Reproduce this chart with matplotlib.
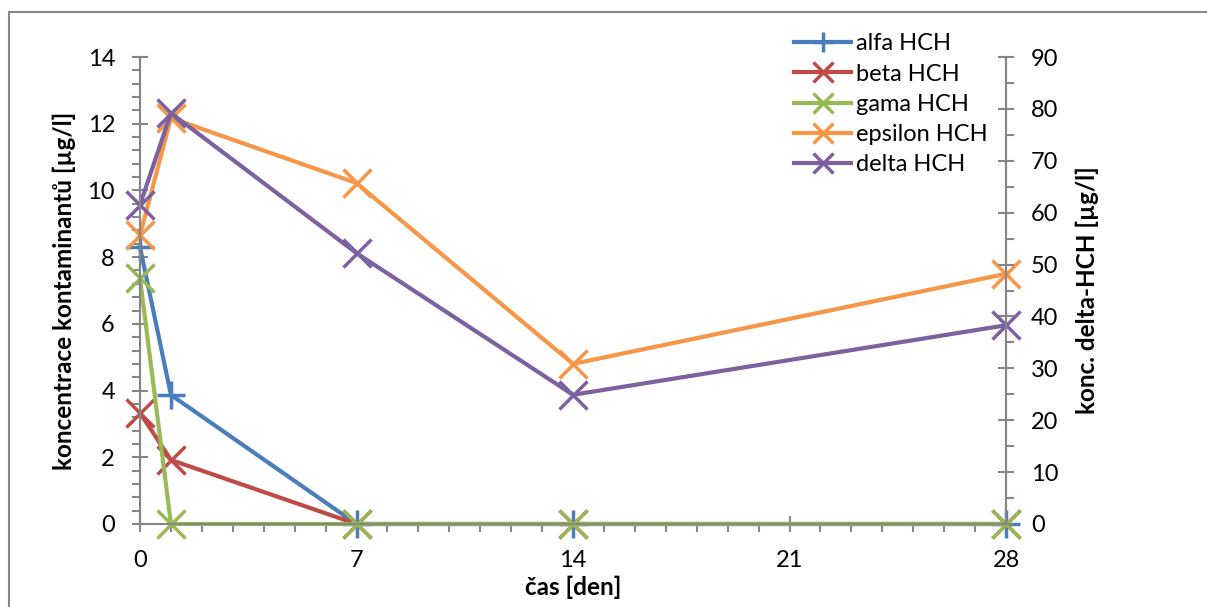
import matplotlib.pyplot as plt
from matplotlib.patches import Rectangle
from matplotlib.ticker import MultipleLocator

plt.rcParams['font.family'] = ['Lato', 'DejaVu Sans']

days = [0, 1, 7, 14, 28]
alfa = [8.3, 3.87, 0, 0, 0]
beta = [3.33, 1.92, 0, 0, 0]
gama = [7.37, 0, 0, 0, 0]
epsilon = [8.66, 12.17, 10.22, 4.8, 7.5]
delta = [61.5, 79.2, 52.2, 24.9, 38.3]

x_ticks = [0, 7, 14, 21, 28]

gray = '#868686'

fig = plt.figure(figsize=(12.07, 6.07), dpi=100)
ax = fig.add_axes([140 / 1207, 1 - 524 / 607, (1006 - 140) / 1207, (524 - 57) / 607])
ax2 = ax.twinx()

# společné styly čar
opts = dict(lw=3, ms=20, mew=2.5, clip_on=False)
l1, = ax.plot(days, alfa, color='#4A7EBB', marker='+', label='alfa HCH', **opts)
l2, = ax.plot(days, beta, color='#BE4B48', marker='x', label='beta HCH', **opts)
l3, = ax.plot(days, gama, color='#98B954', marker='x', label='gama HCH', **opts)
l4, = ax.plot(days, epsilon, color='#F79646', marker='x', label='epsilon HCH', **opts)
l5, = ax2.plot(days, delta, color='#7D60A0', marker='x', label='delta HCH', **opts)

ax.set_xlim(0, 28)
ax.set_ylim(0, 14)
ax2.set_ylim(0, 90)
ax.set_xticks(x_ticks)
ax.xaxis.set_minor_locator(MultipleLocator(1))
ax.yaxis.set_major_locator(MultipleLocator(2))
ax.yaxis.set_minor_locator(MultipleLocator(0.4))
ax2.yaxis.set_major_locator(MultipleLocator(10))
ax2.yaxis.set_minor_locator(MultipleLocator(5))

for a in (ax, ax2):
    a.spines['top'].set_visible(False)
    for s in a.spines.values():
        s.set_color(gray)
        s.set_linewidth(1.5)
    a.tick_params(which='major', direction='inout', length=12, width=1.5, color=gray, labelsize=17, pad=12)
    a.tick_params(which='minor', direction='out', length=6, width=1.5, color=gray)
    a.set_facecolor('none')
ax.tick_params(axis='x', which='major', pad=13)

ax.set_xlabel('čas [den]', fontsize=17.5, fontweight='bold', labelpad=3)
ax.set_ylabel('koncentrace kontaminantů [µg/l]', fontsize=17.5, fontweight='bold', labelpad=8)
ax2.set_ylabel('konc. delta-HCH [µg/l]', fontsize=17.5, fontweight='bold', labelpad=12)

leg = fig.legend(handles=[l1, l2, l3, l4, l5], loc='upper left',
                 bbox_to_anchor=(785 / 1207, 1 - 24 / 607), frameon=False,
                 fontsize=17, handlelength=2.4, handletextpad=0.2, labelspacing=0.39,
                 borderaxespad=0)
for h in leg.legend_handles:
    h.set_markersize(14)

# rámeček grafu
fig.patches.append(Rectangle((9 / 1207, -0.1), 1.1, 1 - 12 / 607 + 0.1,
                             transform=fig.transFigure, fill=False, edgecolor=gray, lw=1.5))

fig.savefig('out.png', dpi=100)
